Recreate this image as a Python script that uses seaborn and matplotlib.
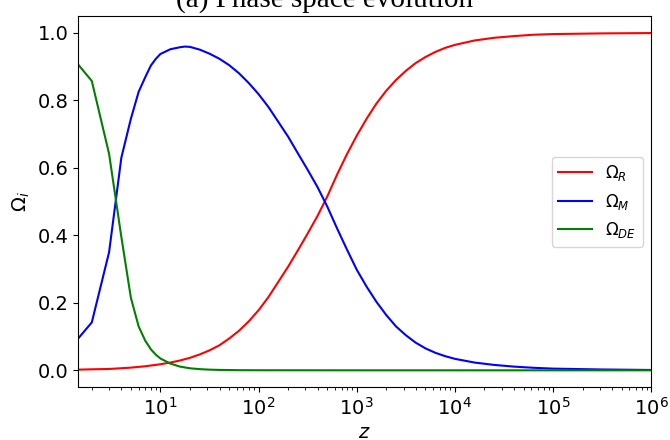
import matplotlib
matplotlib.use("Agg")
import matplotlib.pyplot as plt
import numpy as np
import pandas as pd
import seaborn as sns

# ---- data ----
z_R = [1.46, 2, 3, 5, 7, 10, 12.6, 15.8, 20, 25.1, 31.6, 39.8, 50.1, 63.1, 79.4,
       100, 126, 158, 200, 251, 316, 398, 501, 631, 794,
       1000, 1259, 1585, 1995, 2512, 3162, 3981, 5012, 6310, 7943,
       10000, 15849, 25119, 39811, 63096, 1e5, 316228, 1e6]
omega_R = [0.002, 0.003, 0.004, 0.008, 0.012, 0.018, 0.023, 0.029, 0.037, 0.047, 0.059,
           0.074, 0.094, 0.117, 0.145,
           0.178, 0.217, 0.261, 0.307, 0.355, 0.405, 0.457, 0.515, 0.580, 0.640,
           0.695, 0.745, 0.790, 0.828, 0.860, 0.887, 0.910, 0.928, 0.943, 0.955,
           0.964, 0.977, 0.985, 0.990, 0.994, 0.996, 0.998, 0.999]

z_M = [1.46, 2, 3, 4, 5, 6, 7, 8, 9, 10,
       12.6, 15.8, 17.8, 20, 25.1, 31.6, 39.8, 50.1, 63.1, 79.4,
       100, 126, 158, 200, 251, 316, 398, 501, 631, 794,
       1000, 1259, 1585, 1995, 2512, 3162, 3981, 5012, 6310, 7943,
       10000, 15849, 25119, 39811, 63096, 1e5, 316228, 1e6]
omega_M = [0.095, 0.142, 0.350, 0.630, 0.745, 0.825, 0.868, 0.903, 0.923, 0.937,
           0.951, 0.957, 0.959, 0.958, 0.950, 0.938, 0.923, 0.904, 0.880, 0.851,
           0.818, 0.780, 0.737, 0.692, 0.643, 0.594, 0.543, 0.485, 0.420, 0.358,
           0.298, 0.248, 0.203, 0.164, 0.130, 0.104, 0.082, 0.065, 0.052, 0.042,
           0.034, 0.023, 0.016, 0.011, 0.0075, 0.005, 0.0025, 0.001]

z_DE = [1.46, 2, 3, 4, 5, 6, 7, 8, 9, 10, 12.6, 15.8, 20, 25.1, 31.6, 39.8, 63.1,
        100, 1000, 1e6]
omega_DE = [0.905, 0.857, 0.641, 0.395, 0.215, 0.130, 0.088, 0.062, 0.046, 0.035,
            0.020, 0.011, 0.006, 0.0035, 0.002, 0.0012, 0.0004, 0.0002, 0.0, 0.0]

series_labels = [r"$\Omega_R$", r"$\Omega_M$", r"$\Omega_{DE}$"]
series_colors = ["red", "blue", "green"]
x_ticks = [1e1, 1e2, 1e3, 1e4, 1e5, 1e6]
y_ticks = [0.0, 0.2, 0.4, 0.6, 0.8, 1.0]

frames = [
    pd.DataFrame({"z": z_R, "omega": omega_R}),
    pd.DataFrame({"z": z_M, "omega": omega_M}),
    pd.DataFrame({"z": z_DE, "omega": omega_DE}),
]

fig, ax = plt.subplots(figsize=(6.7, 4.4), dpi=100)
fig.subplots_adjust(left=0.117, right=0.972, top=0.964, bottom=0.12)

for df, lab, col in zip(frames, series_labels, series_colors):
    sns.lineplot(data=df, x="z", y="omega", ax=ax, color=col, label=lab,
                 linewidth=1.5, estimator=None, sort=False)

ax.set_xscale("log")
ax.set_xlim(1.46, 1e6)
ax.set_ylim(-0.05, 1.05)
ax.set_xticks(x_ticks)
ax.set_yticks(y_ticks)
ax.tick_params(axis="both", which="major", labelsize=14)
ax.set_xlabel(r"$z$", fontsize=14, labelpad=3)
ax.set_ylabel(r"$\Omega_i$", fontsize=14)
ax.legend(loc="center right", fontsize=12)

fig.text(0.485, 1 - 7 / 440, "(a) Phase space evolution", ha="center", va="baseline",
         fontsize=21, family="Liberation Serif")

fig.savefig("out.png", dpi=100)
